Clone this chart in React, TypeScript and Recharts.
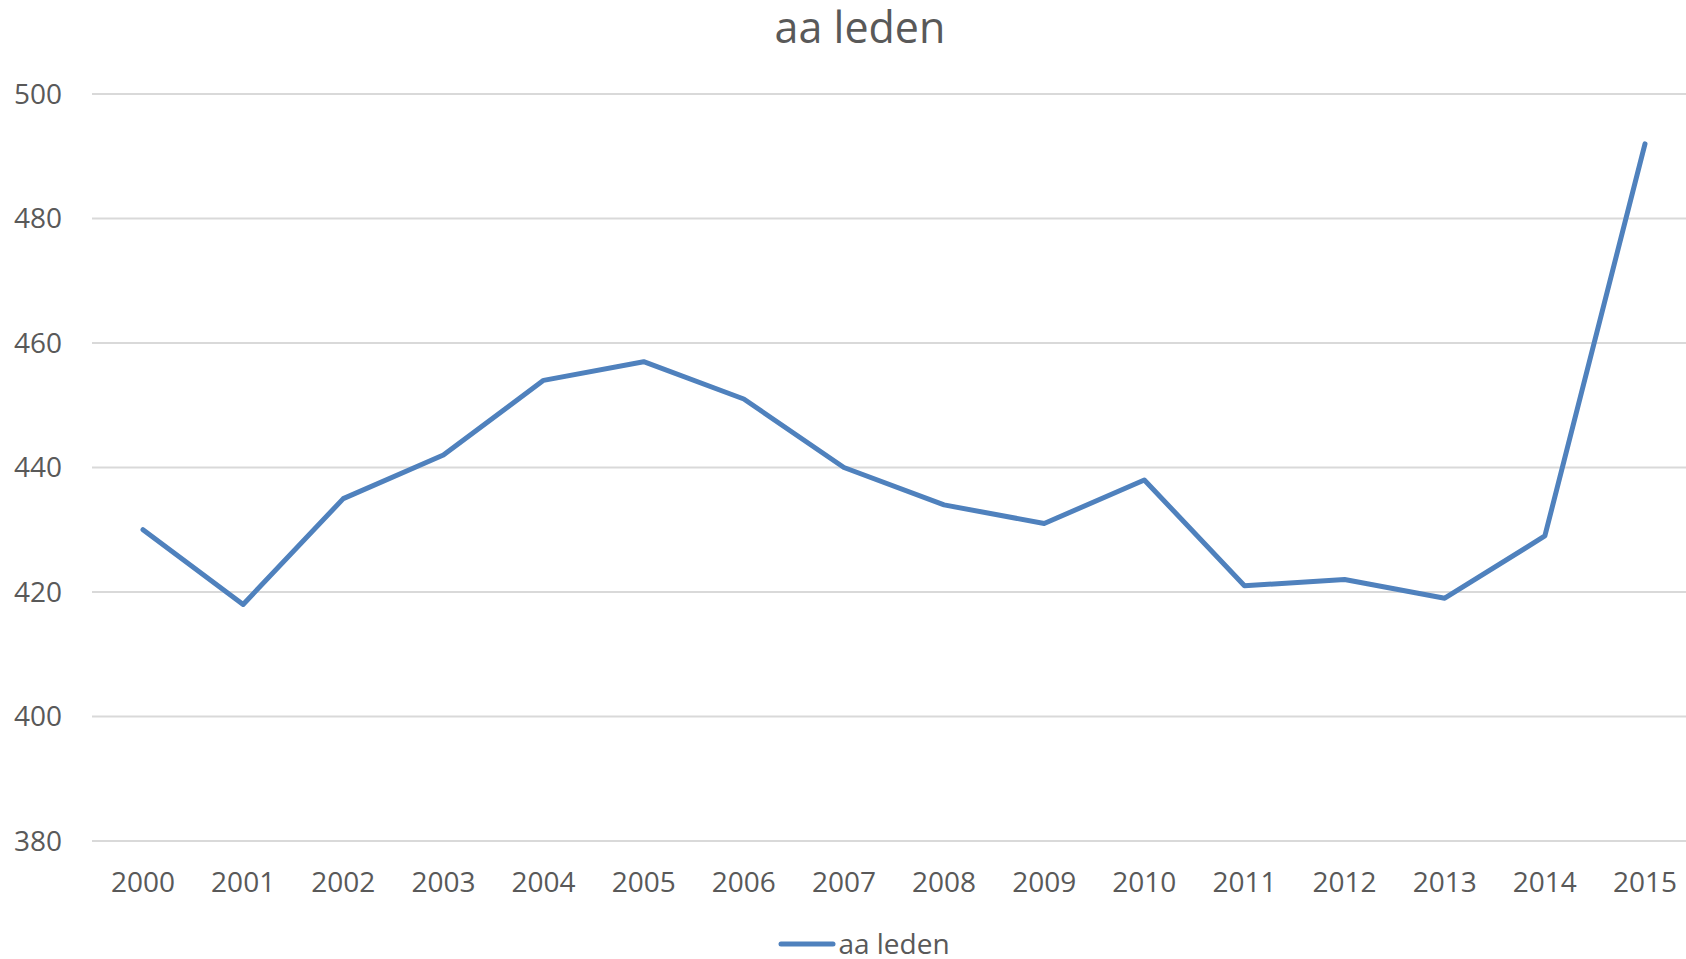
import { LineChart, Line, XAxis, YAxis, CartesianGrid, Legend } from 'recharts';

const years = ['2000', '2001', '2002', '2003', '2004', '2005', '2006', '2007', '2008', '2009', '2010', '2011', '2012', '2013', '2014', '2015'];
const leden = [430, 418, 435, 442, 454, 457, 451, 440, 434, 431, 438, 421, 422, 419, 429, 492];
const yTicks = [380, 400, 420, 440, 460, 480, 500];
const seriesName = 'aa leden';
const chartTitle = 'aa leden';

const data = years.map((year, i) => ({ year, value: leden[i] }));

const BLUE = '#4F81BD';
const TEXT = '#595959';
const FONT = '"Open Sans", sans-serif';

const LegendContent = (props: any) => {
    const { payload = [] } = props;
    return (
        <div style={{ height: 50, display: 'flex', justifyContent: 'center', alignItems: 'flex-start', paddingTop: 20, boxSizing: 'border-box' }}>
            {payload.map((entry: any) => (
                <div key={entry.value} style={{ display: 'flex', alignItems: 'center' }}>
                    <svg width={58} height={28}>
                        <line x1={3} y1={15} x2={55} y2={15} stroke={entry.color} strokeWidth={5} strokeLinecap="round" />
                    </svg>
                    <span style={{ fontSize: 28, lineHeight: '28px', color: TEXT, fontFamily: FONT, marginLeft: 2 }}>{entry.value}</span>
                </div>
            ))}
        </div>
    );
};

export default function App() {
    return (
        <div style={{ position: 'fixed', left: 0, top: 0, width: 1686, height: 959, overflow: 'hidden', background: '#fff', fontFamily: FONT }}>
            <div style={{ position: 'absolute', left: 0, top: 5, width: 1720, textAlign: 'center', fontSize: 43, lineHeight: '43px', color: TEXT, zIndex: 1 }}>
                {chartTitle}
            </div>
            <LineChart width={1720} height={959} data={data} margin={{ top: 94, right: 25, left: 0, bottom: 0 }}>
                <CartesianGrid vertical={false} stroke="#d9d9d9" strokeWidth={2} />
                <XAxis
                    dataKey="year"
                    height={68}
                    tickSize={0}
                    tickMargin={31}
                    axisLine={false}
                    tickLine={false}
                    interval={0}
                    padding={{ left: 51, right: 50 }}
                    tick={{ fill: TEXT, fontSize: 28, fontFamily: FONT }}
                />
                <YAxis
                    domain={[380, 500]}
                    ticks={yTicks}
                    width={92}
                    tickSize={0}
                    tickMargin={30}
                    axisLine={false}
                    tickLine={false}
                    interval={0}
                    tick={{ fill: TEXT, fontSize: 28, fontFamily: FONT }}
                />
                <Legend verticalAlign="bottom" content={LegendContent} wrapperStyle={{ left: 0, width: 1728 }} />
                <Line
                    type="linear"
                    dataKey="value"
                    name={seriesName}
                    stroke={BLUE}
                    strokeWidth={5}
                    strokeLinejoin="round"
                    strokeLinecap="round"
                    dot={false}
                    activeDot={false}
                    isAnimationActive={false}
                />
            </LineChart>
        </div>
    );
}
